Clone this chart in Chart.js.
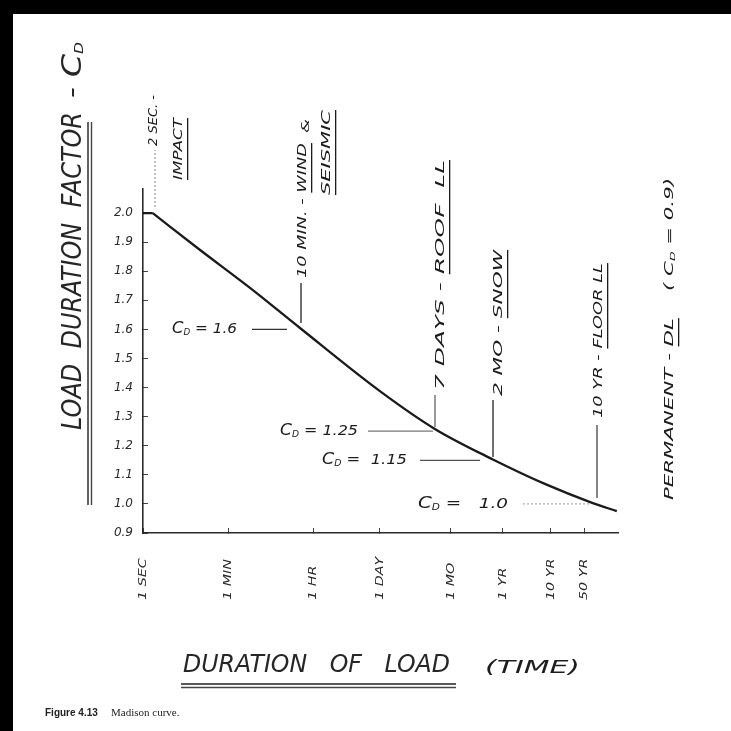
<!DOCTYPE html>
<html>
<head>
<meta charset="utf-8">
<script src="https://cdn.jsdelivr.net/npm/chart.js@4.4.0/dist/chart.umd.min.js"></script>
<style>
  html, body { margin: 0; padding: 0; background: #fff; }
  #wrap { width: 731px; height: 731px; position: relative; }
</style>
</head>
<body>
<div id="wrap"><canvas id="madison"></canvas></div>
<script>
// Madison curve: load duration factor C_D against duration of load

// duration of load in seconds
var durationSec = [1, 1.6, 15, 170, 1870, 86600, 1.21e6, 1.96e7, 2.37e8, 2.37e9, 7.5e9];
// load duration factor at those durations
var cdValues = [2.0, 2.0, 1.875, 1.743, 1.605, 1.388, 1.258, 1.153, 1.069, 1.003, 0.975];

// x axis (log of time)
var timeTicks = [1, 60, 3600, 86400, 2592000, 31536000, 315360000, 1576800000];
var timeLabels = ['1 SEC', '1 MIN', '1 HR', '1 DAY', '1 MO', '1 YR', '10 YR', '50 YR'];

// y axis
var cdTicks = [0.9, 1.0, 1.1, 1.2, 1.3, 1.4, 1.5, 1.6, 1.7, 1.8, 1.9, 2.0];

var HAND = "'DejaVu Sans', sans-serif";
var INK = '#1c1c1c';

var points = durationSec.map(function (s, i) { return { x: s, y: cdValues[i] }; });

// draws a run of text pieces along one baseline, optionally rotated (reads upward)
// opt.len stretches the whole run to that length
function run(ctx, segs, x, y, opt) {
  opt = opt || {};
  ctx.save();
  ctx.translate(x, y);
  if (opt.vertical) ctx.rotate(-Math.PI / 2);
  var total = 0;
  segs.forEach(function (s) {
    ctx.font = 'italic ' + s.size + 'px ' + HAND;
    s.w = ctx.measureText(s.t).width;
    total += s.w;
  });
  var k = opt.len ? opt.len / total : (opt.stretch || 1);
  ctx.scale(k, 1);
  ctx.textBaseline = 'middle';
  ctx.fillStyle = opt.color || INK;
  var pos = 0;
  segs.forEach(function (s) {
    ctx.font = 'italic ' + s.size + 'px ' + HAND;
    ctx.fillText(s.t, pos, s.sub ? s.size * 0.45 : 0);
    if (s.ul) ctx.fillRect(pos, s.ul, s.w, 1.3);
    pos += s.w;
  });
  ctx.restore();
}

function seg(t, size, more) {
  var o = { t: t, size: size };
  for (var k in more) o[k] = more[k];
  return o;
}

function line(ctx, x1, y1, x2, y2, w, color, dash) {
  ctx.save();
  ctx.strokeStyle = color || '#333';
  ctx.lineWidth = w || 1;
  if (dash) ctx.setLineDash(dash);
  ctx.beginPath();
  ctx.moveTo(x1, y1);
  ctx.lineTo(x2, y2);
  ctx.stroke();
  ctx.restore();
}

var paper = {
  id: 'paper',
  beforeDraw: function (chart) {
    var ctx = chart.ctx;
    ctx.save();
    ctx.fillStyle = '#fff';
    ctx.fillRect(0, 0, chart.width, chart.height);
    ctx.fillStyle = '#000';
    ctx.fillRect(0, 0, chart.width, 14);
    ctx.fillRect(0, 0, 13, chart.height);
    ctx.restore();
  },
  afterDraw: function (chart) {
    var ctx = chart.ctx;
    var xs = chart.scales.x, ys = chart.scales.y;

    // x tick labels, written upward from a common start
    timeTicks.forEach(function (v, i) {
      run(ctx, [seg(timeLabels[i], 11)], xs.getPixelForValue(v), 600, { vertical: true, stretch: 1.3, color: '#2a2a2a' });
    });

    // axis titles
    run(ctx, [seg('LOAD  DURATION  FACTOR', 26)], 74, 430, { vertical: true, len: 318, color: '#262626' });
    run(ctx, [seg(' - ', 24), seg('C', 26), seg('D', 12, { sub: true })], 74, 108, { vertical: true, len: 66, color: '#262626' });
    line(ctx, 88, 505, 88, 122, 1.4, '#222');
    line(ctx, 91.5, 505, 91.5, 122, 1.4, '#444');

    run(ctx, [seg('DURATION   OF   LOAD', 24)], 183, 666, { len: 267, color: '#262626' });
    run(ctx, [seg('(TIME)', 18)], 485, 668, { len: 95 });
    line(ctx, 181, 684, 456, 684, 1.6, '#222');
    line(ctx, 181, 687.5, 456, 687.5, 1.4, '#444');

    // caption
    ctx.save();
    ctx.fillStyle = '#222';
    ctx.textBaseline = 'alphabetic';
    ctx.font = "bold 10px 'Liberation Sans', sans-serif";
    ctx.fillText('Figure 4.13', 45, 716);
    ctx.font = "11px 'Liberation Serif', serif";
    ctx.fillText('Madison curve.', 111, 716);
    ctx.restore();

    // C_D levels with leaders to the curve
    var y16 = ys.getPixelForValue(1.6), y125 = ys.getPixelForValue(1.25),
        y115 = ys.getPixelForValue(1.15), y10 = ys.getPixelForValue(1.0);
    run(ctx, [seg('C', 15), seg('D', 8, { sub: true }), seg(' = 1.6', 14)], 172, y16, { len: 65 });
    line(ctx, 252, y16, 287, y16, 1.2, '#333');
    run(ctx, [seg('C', 15), seg('D', 8, { sub: true }), seg(' = 1.25', 14)], 280, y125, { len: 78 });
    line(ctx, 368, y125, 433, y125, 1.2, '#777');
    run(ctx, [seg('C', 15), seg('D', 8, { sub: true }), seg(' =  1.15', 14)], 322, y115, { len: 85 });
    line(ctx, 420, y115, 480, y115, 1.2, '#555');
    run(ctx, [seg('C', 15), seg('D', 8, { sub: true }), seg(' =   1.0', 14)], 418, y10, { len: 90 });
    line(ctx, 523, y10, 590, y10, 1, '#999', [2, 2]);

    // load types, written upward with leaders down to the curve
    line(ctx, 155, 207, 155, 150, 1, '#888', [2, 2]);
    run(ctx, [seg('2 SEC. -', 12)], 154, 146, { vertical: true, len: 51 });
    run(ctx, [seg('IMPACT', 12, { ul: 8 })], 179, 180, { vertical: true, len: 62 });

    line(ctx, 301, 323, 301, 283, 1.3, '#222');
    run(ctx, [seg('10 MIN. - ', 12), seg('WIND', 12, { ul: 8 })], 303, 278, { vertical: true, len: 135 });
    run(ctx, [seg('&', 10)], 306, 133, { vertical: true, len: 14 });
    run(ctx, [seg('SEISMIC', 12, { ul: 8 })], 327, 195, { vertical: true, len: 85 });

    line(ctx, 435, 427, 435, 395, 1.1, '#444');
    run(ctx, [seg('7 DAYS - ', 12), seg('ROOF  LL', 12, { ul: 8 })], 441, 390, { vertical: true, len: 230 });

    line(ctx, 493, 457, 493, 400, 1.3, '#222');
    run(ctx, [seg('2 MO - ', 12), seg('SNOW', 12, { ul: 8 })], 499, 396, { vertical: true, len: 146 });

    line(ctx, 597, 498, 597, 425, 1.2, '#333');
    run(ctx, [seg('10 YR - ', 12), seg('FLOOR LL', 12, { ul: 8 })], 599, 418, { vertical: true, len: 155 });

    run(ctx, [seg('PERMANENT - ', 12), seg('DL', 12, { ul: 8 }), seg('    ( C', 12), seg('D', 7, { sub: true }), seg(' = 0.9)', 12)],
        670, 500, { vertical: true, len: 322 });
  }
};

var curveStyle = {
  borderColor: '#1a1a1a',
  borderWidth: 2.3,
  pointRadius: 0,
  fill: false,
  cubicInterpolationMode: 'monotone'
};

var chart = new Chart(document.getElementById('madison').getContext('2d'), {
  type: 'line',
  data: {
    datasets: [
      // flat stretch up to about 2 sec, then the falling curve
      Object.assign({ data: points.slice(0, 2) }, curveStyle),
      Object.assign({ data: points.slice(1) }, curveStyle)
    ]
  },
  options: {
    responsive: true,
    maintainAspectRatio: false,
    animation: false,
    devicePixelRatio: 1,
    layout: { padding: { left: 0, top: 189, right: 113, bottom: 0 } },
    plugins: { legend: { display: false }, tooltip: { enabled: false } },
    scales: {
      x: {
        type: 'logarithmic',
        min: 1,
        max: 7.94e9,
        afterBuildTicks: function (s) { s.ticks = timeTicks.map(function (v) { return { value: v }; }); },
        afterFit: function (s) { s.height = 198; },
        ticks: { display: false },
        grid: { drawOnChartArea: false, drawTicks: true, tickLength: -5, color: '#444', lineWidth: 1 },
        border: { color: '#2a2a2a', width: 1.6 }
      },
      y: {
        min: 0.9,
        max: 2.083,
        afterBuildTicks: function (s) { s.ticks = cdTicks.map(function (v) { return { value: v }; }); },
        afterFit: function (s) { s.width = 143; },
        ticks: {
          padding: 15,
          color: '#2a2a2a',
          font: { family: 'DejaVu Sans', style: 'italic', size: 12 },
          callback: function (v) { return Number(v).toFixed(1); }
        },
        grid: { drawOnChartArea: false, drawTicks: true, tickLength: -5, color: '#444', lineWidth: 1 },
        border: { color: '#2a2a2a', width: 1.6 }
      }
    }
  },
  plugins: [paper]
});
</script>
</body>
</html>
